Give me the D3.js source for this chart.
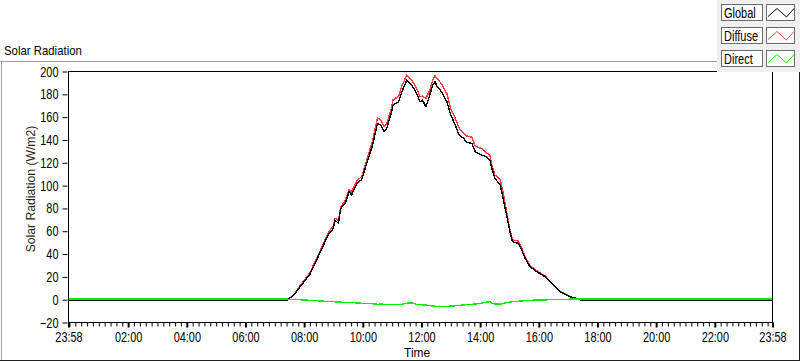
<!DOCTYPE html>
<html><head><meta charset="utf-8">
<script src="https://cdn.jsdelivr.net/npm/d3@7"></script>
<style>
html,body{margin:0;padding:0;background:#fff;}
svg{display:block;}
text{font-family:"Liberation Sans",Arial,sans-serif;fill:#000;}
</style>
</head><body>
<svg id="chart" width="800" height="361"></svg>
<script>
// ---- data ----
const times = ["23:58","07:26","07:40","07:53","08:13","08:33","08:50","09:01","09:04","09:11","09:16","09:25","09:33","09:38","09:49","09:59","10:09","10:21","10:31","10:38","10:44","10:50","11:00","11:03","11:14","11:21","11:31","11:41","11:51","11:58","12:03","12:10","12:18","12:24","12:29","12:33","12:42","12:53","13:01","13:10","13:18","13:27","13:34","13:44","13:51","14:04","14:14","14:21","14:25","14:31","14:42","14:48","14:55","15:02","15:07","15:19","15:26","15:33","15:43","15:57","16:14","16:27","16:44","17:05","17:19","17:27","23:58"];
const globalVals = [-0.8,-0.8,3.5,11,22,40.2,56.3,62,69.4,66.5,79.6,84,94.2,91.3,101.6,105,119,135,154,152.7,146.8,149.8,164.3,170.2,173,181.9,192.1,187.7,180.5,173,174.6,168.7,179,187.7,190.6,186.3,181.9,173,161.4,152.7,143.9,141,137.5,136.6,129.3,126.4,124.9,122,114.7,106,100.1,88.4,73.8,59.2,50.4,49,43.1,35.8,28.5,24.1,19.7,13.9,6.6,2.2,0.5,-0.8,-0.8];
const diffuseVals = [-0.8,-0.8,3.8,12,23.5,41.5,58,64.5,71,69,81,86.5,96.3,94,104,107.5,122,139,159,157,151.5,154,168,175,177.5,187,196.5,192,185,177.5,178,176,183,192,196,193,189,180,167,158.5,150,145.5,143,142,134,132,128,126.4,117.6,109,104.5,94,76.7,60.6,52,51,44.6,37.2,29.5,24.8,20.3,14.2,6.8,2.3,0.5,-0.8,-0.8];
const directVals = [0,0,-0.2,-0.5,-1,-1.5,-2,-2.2,-2.3,-2.5,-2.6,-2.8,-3,-3,-3.3,-3.6,-3.8,-4,-4.5,-4.3,-4.5,-4.5,-4.8,-4.8,-4.6,-4.5,-3.5,-3.2,-4.5,-4.4,-5,-5.2,-5.6,-6,-6.2,-6.4,-6.3,-6.3,-6,-5.8,-5.5,-5,-4.8,-4.5,-4.3,-3.5,-2.5,-2.2,-3.5,-4.2,-4.5,-3.8,-3,-2.5,-2.2,-1.8,-1.5,-1.3,-1,-0.8,-0.6,-0.4,-0.2,0,0,0,0];
const yTickValues = [-20,0,20,40,60,80,100,120,140,160,180,200];
const xTickLabels = ["23:58","02:00","04:00","06:00","08:00","10:00","12:00","14:00","16:00","18:00","20:00","22:00","23:58"];
const seriesNames = ["Global","Diffuse","Direct"];
const seriesColors = ["#000000","#ff4040","#00f000"];
const chartTitle = "Solar Radiation";
const yTitle = "Solar Radiation (W/m2)";
const xTitle = "Time";

// ---- helpers ----
function parseSeq(arr){
  let day = 0, prev = -1;
  return arr.map(s => {
    const [h,m] = s.split(":").map(Number);
    const v = h*60+m;
    if (v < prev) day++;
    prev = v;
    return new Date(2000,0,1+day,h,m);
  });
}
const dates = parseSeq(times);
const tickDates = parseSeq(xTickLabels);

const svg = d3.select("#chart");
const L = 68, R = 772, T = 71, B = 322;

const x = d3.scaleTime().domain([dates[0], dates[dates.length-1]]).range([L, R]);
const y = d3.scaleLinear().domain([-20, 200]).range([B, T]);

function label(g, px, py, str, fs, sx, anchor){
  return g.append("text")
    .attr("transform", `translate(${px},${py}) scale(${sx},1)`)
    .attr("text-anchor", anchor || "start")
    .style("font-size", fs + "px")
    .text(str);
}

// outer frame
svg.append("line").attr("x1",0).attr("x2",800).attr("y1",61.5).attr("y2",61.5).attr("stroke","#a0a0a0");
svg.append("line").attr("x1",1.5).attr("x2",1.5).attr("y1",61).attr("y2",360).attr("stroke","#a0a0a0");
svg.append("line").attr("x1",0).attr("x2",800).attr("y1",360.5).attr("y2",360.5).attr("stroke","#202020");
svg.append("line").attr("x1",799.5).attr("x2",799.5).attr("y1",61).attr("y2",361).attr("stroke","#202020");

label(svg, 4, 55, chartTitle, 12, 0.95);

// plot area
svg.append("rect").attr("x",L+0.5).attr("y",T+0.5).attr("width",R-L).attr("height",B-T)
  .attr("fill","#fff").attr("stroke","#000").attr("stroke-width",1);

// y axis
const yAxis = d3.axisLeft(y).tickValues(yTickValues).tickSize(5).tickPadding(4).tickFormat(d3.format("d"));
const gy = svg.append("g").attr("transform",`translate(${L+0.5},0.5)`).call(yAxis);
gy.select(".domain").remove();
gy.selectAll(".tick line").attr("stroke","#000").attr("x1",-1).attr("x2",-6);
const ySx = 0.78;
gy.selectAll(".tick text").each(function(){
  const t = d3.select(this);
  t.attr("x", null).attr("dy", null)
   .attr("transform", `translate(-10,4.5) scale(${ySx},1)`)
   .style("font-size","14px").attr("fill","#000");
});

// x axis major
const xAxis = d3.axisBottom(x).tickValues(tickDates).tickSize(5).tickPadding(4).tickFormat(d3.timeFormat("%H:%M"));
const gx = svg.append("g").attr("transform",`translate(0.5,${B+0.5})`).call(xAxis);
gx.select(".domain").remove();
gx.selectAll(".tick line").attr("stroke","#000").attr("stroke-width",2);
gx.selectAll(".tick text").each(function(){
  const t = d3.select(this);
  t.attr("y", null).attr("dy", null)
   .attr("transform", `translate(0,19.5) scale(0.78,1)`)
   .style("font-size","14px").attr("fill","#000");
});
// x axis minor
const minorDates = d3.timeMinute.every(12).range(tickDates[0], tickDates[tickDates.length-1])
  .filter(d => !tickDates.some(t => +t === +d));
const xMinor = d3.axisBottom(x).tickValues(minorDates).tickSize(4).tickFormat("");
const gxm = svg.append("g").attr("transform",`translate(0.5,${B+0.5})`).call(xMinor);
gxm.select(".domain").remove();
gxm.selectAll(".tick line").attr("stroke","#000");

// axis titles
svg.append("text").attr("transform",`translate(35,189) rotate(-90)`).attr("text-anchor","middle")
  .style("font-size","12.2px").style("fill","#2a1f10").text(yTitle);
label(svg, 404, 357, xTitle, 12, 1);

// lines
const seriesVals = [globalVals, diffuseVals, directVals];
const order = [1,0,2];
const line = d3.line().x((d,i)=>x(dates[i])).y(d=>y(d));
svg.append("clipPath").attr("id","clip").append("rect").attr("x",L+1).attr("y",T+1).attr("width",R-L-1).attr("height",B-T-1);
const gl = svg.append("g").attr("clip-path","url(#clip)");
order.forEach(k=>{
  gl.append("path").datum(seriesVals[k]).attr("d",line)
    .attr("fill","none").attr("stroke",seriesColors[k]).attr("stroke-width",1.4)
    .attr("shape-rendering","crispEdges")
    .attr("stroke-linejoin","round");
});

// legend
const lg = svg.append("g");
lg.append("rect").attr("x",717).attr("y",0).attr("width",83).attr("height",72).attr("fill","#f0f0f0");
seriesNames.forEach((name,i)=>{
  const top = 4 + i*23;
  lg.append("rect").attr("x",721.5).attr("y",top+0.5).attr("width",41).attr("height",16)
    .attr("fill","#fff").attr("stroke","#6a6a6a");
  lg.append("rect").attr("x",766.5).attr("y",top+0.5).attr("width",28).attr("height",16)
    .attr("fill","#fff").attr("stroke","#6a6a6a");
  label(lg, 724, top+14, name, 14.5, 0.76);
  lg.append("polyline")
    .attr("points",[[768,top+12.5],[777,top+4.5],[786.5,top+13],[794,top+4.5]].map(p=>p.join(",")).join(" "))
    .attr("fill","none").attr("stroke",seriesColors[i]).attr("stroke-width",1);
});
</script>
</body></html>
